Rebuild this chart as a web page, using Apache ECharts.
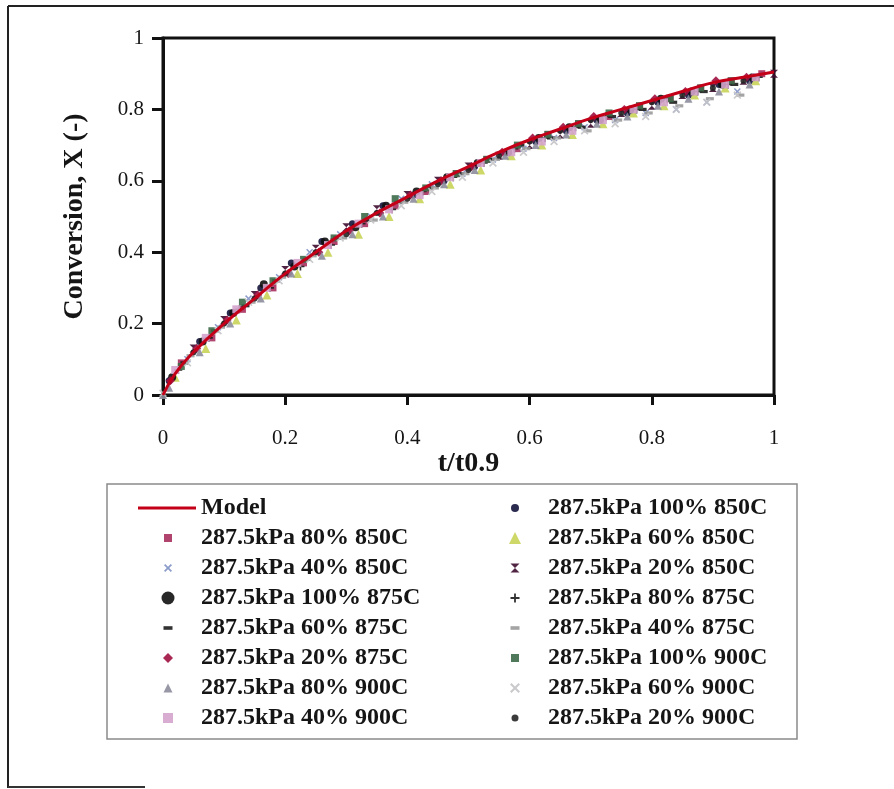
<!DOCTYPE html>
<html><head><meta charset="utf-8">
<script src="https://cdn.jsdelivr.net/npm/echarts@6/dist/echarts.min.js"></script>
<style>html,body{margin:0;padding:0;background:#fff}#c{width:894px;height:789px}</style>
</head><body><div id="c"></div>
<script>
// ---- data (t/t0.9, Conversion X) ----
const xTicks = [0, 0.2, 0.4, 0.6, 0.8, 1];
const yTicks = [0, 0.2, 0.4, 0.6, 0.8, 1];
const model = [[0,0],[0.02,0.06],[0.05,0.12],[0.1,0.2],[0.15,0.27],[0.2,0.34],[0.25,0.40],[0.3,0.46],[0.35,0.51],[0.4,0.555],[0.45,0.60],[0.5,0.64],[0.55,0.68],[0.6,0.715],[0.65,0.745],[0.7,0.775],[0.75,0.80],[0.8,0.825],[0.85,0.85],[0.9,0.875],[0.95,0.89],[1.0,0.905]];
const s100_850 = [[0.01,0.04],[0.06,0.15],[0.11,0.23],[0.16,0.30],[0.21,0.37],[0.26,0.43],[0.31,0.48],[0.36,0.53],[0.41,0.56],[0.46,0.60],[0.51,0.64],[0.56,0.68],[0.61,0.71],[0.66,0.74],[0.71,0.77],[0.76,0.79],[0.81,0.82],[0.86,0.84],[0.91,0.87],[0.96,0.88]];
const s80_850 = [[0.03,0.09],[0.08,0.16],[0.13,0.24],[0.18,0.30],[0.23,0.37],[0.28,0.43],[0.33,0.48],[0.38,0.53],[0.43,0.57],[0.48,0.62],[0.53,0.66],[0.58,0.69],[0.63,0.73],[0.68,0.76],[0.73,0.78],[0.78,0.81],[0.83,0.83],[0.88,0.86],[0.93,0.88],[0.98,0.90]];
const s60_850 = [[0.02,0.05],[0.07,0.13],[0.12,0.21],[0.17,0.28],[0.22,0.34],[0.27,0.40],[0.32,0.45],[0.37,0.50],[0.42,0.55],[0.47,0.59],[0.52,0.63],[0.57,0.67],[0.62,0.70],[0.67,0.73],[0.72,0.76],[0.77,0.79],[0.82,0.81],[0.87,0.84],[0.92,0.86],[0.97,0.88]];
const s40_850 = [[0.04,0.10],[0.09,0.19],[0.14,0.27],[0.19,0.33],[0.24,0.40],[0.29,0.45],[0.34,0.50],[0.39,0.55],[0.44,0.59],[0.49,0.62],[0.54,0.66],[0.59,0.69],[0.64,0.72],[0.69,0.75],[0.74,0.77],[0.79,0.79],[0.84,0.80],[0.89,0.82],[0.94,0.85]];
const s20_850 = [[0.05,0.13],[0.10,0.21],[0.15,0.28],[0.20,0.35],[0.25,0.41],[0.30,0.47],[0.35,0.52],[0.40,0.56],[0.45,0.60],[0.50,0.64],[0.55,0.67],[0.60,0.70],[0.65,0.73],[0.70,0.76],[0.75,0.79],[0.80,0.81],[0.85,0.84],[0.90,0.86],[0.95,0.88],[1.0,0.90]];
const s100_875 = [[0.015,0.05],[0.065,0.15],[0.115,0.23],[0.165,0.31],[0.215,0.36],[0.265,0.43],[0.315,0.47],[0.365,0.53],[0.415,0.57],[0.465,0.61],[0.515,0.65],[0.565,0.68],[0.615,0.72],[0.665,0.75],[0.715,0.77],[0.765,0.80],[0.815,0.83],[0.865,0.85],[0.915,0.87],[0.965,0.89]];
const s80_875 = [[0.025,0.07],[0.075,0.16],[0.125,0.24],[0.175,0.30],[0.225,0.36],[0.275,0.42],[0.325,0.48],[0.375,0.52],[0.425,0.57],[0.475,0.61],[0.525,0.65],[0.575,0.69],[0.625,0.72],[0.675,0.75],[0.725,0.78],[0.775,0.80],[0.825,0.83],[0.875,0.85],[0.925,0.87],[0.975,0.89]];
const s60_875 = [[0.035,0.09],[0.085,0.18],[0.135,0.25],[0.185,0.32],[0.235,0.38],[0.285,0.44],[0.335,0.49],[0.385,0.54],[0.435,0.58],[0.485,0.62],[0.535,0.66],[0.585,0.70],[0.635,0.72],[0.685,0.75],[0.735,0.78],[0.785,0.80],[0.835,0.82],[0.885,0.85],[0.935,0.87]];
const s40_875 = [[0.045,0.11],[0.095,0.19],[0.145,0.26],[0.195,0.33],[0.245,0.39],[0.295,0.44],[0.345,0.49],[0.395,0.54],[0.445,0.58],[0.495,0.62],[0.545,0.66],[0.595,0.69],[0.645,0.72],[0.695,0.74],[0.745,0.77],[0.795,0.79],[0.845,0.81],[0.895,0.83],[0.945,0.84]];
const s20_875 = [[0.012,0.04],[0.055,0.13],[0.105,0.21],[0.155,0.28],[0.205,0.34],[0.255,0.40],[0.305,0.46],[0.355,0.51],[0.405,0.56],[0.455,0.60],[0.505,0.64],[0.555,0.68],[0.605,0.72],[0.655,0.75],[0.705,0.78],[0.755,0.80],[0.805,0.83],[0.855,0.85],[0.905,0.88],[0.955,0.89]];
const s100_900 = [[0.03,0.08],[0.08,0.18],[0.13,0.26],[0.18,0.32],[0.23,0.38],[0.28,0.44],[0.33,0.50],[0.38,0.55],[0.43,0.58],[0.48,0.62],[0.53,0.66],[0.58,0.70],[0.63,0.73],[0.68,0.76],[0.73,0.79],[0.78,0.81],[0.83,0.83],[0.88,0.86],[0.93,0.88]];
const s80_900 = [[0,0],[0.01,0.02],[0.06,0.12],[0.11,0.20],[0.16,0.27],[0.21,0.34],[0.26,0.39],[0.31,0.45],[0.36,0.50],[0.41,0.55],[0.46,0.59],[0.51,0.63],[0.56,0.67],[0.61,0.70],[0.66,0.73],[0.71,0.76],[0.76,0.78],[0.81,0.81],[0.86,0.83],[0.91,0.85],[0.96,0.87]];
const s60_900 = [[0,0.005],[0.04,0.09],[0.09,0.18],[0.14,0.26],[0.19,0.32],[0.24,0.38],[0.29,0.44],[0.34,0.49],[0.39,0.53],[0.44,0.57],[0.49,0.61],[0.54,0.65],[0.59,0.68],[0.64,0.71],[0.69,0.74],[0.74,0.76],[0.79,0.78],[0.84,0.80],[0.89,0.82],[0.94,0.84]];
const s40_900 = [[0.02,0.07],[0.07,0.16],[0.12,0.24],[0.17,0.30],[0.22,0.37],[0.27,0.42],[0.32,0.48],[0.37,0.52],[0.42,0.56],[0.47,0.61],[0.52,0.65],[0.57,0.68],[0.62,0.71],[0.67,0.74],[0.72,0.77],[0.77,0.80],[0.82,0.82],[0.87,0.85],[0.92,0.87],[0.97,0.89]];
const s20_900 = [[0.05,0.12],[0.10,0.20],[0.15,0.27],[0.20,0.34],[0.25,0.40],[0.30,0.45],[0.35,0.51],[0.40,0.55],[0.45,0.59],[0.50,0.63],[0.55,0.67],[0.60,0.71],[0.65,0.74],[0.70,0.77],[0.75,0.79],[0.80,0.82],[0.85,0.84],[0.90,0.86],[0.95,0.88]];

const names = ['Model','287.5kPa 100% 850C','287.5kPa 80% 850C','287.5kPa 60% 850C','287.5kPa 40% 850C','287.5kPa 20% 850C','287.5kPa 100% 875C','287.5kPa 80% 875C','287.5kPa 60% 875C','287.5kPa 40% 875C','287.5kPa 20% 875C','287.5kPa 100% 900C','287.5kPa 80% 900C','287.5kPa 60% 900C','287.5kPa 40% 900C','287.5kPa 20% 900C'];
const seriesData = [model, s100_850, s80_850, s60_850, s40_850, s20_850, s100_875, s80_875, s60_875, s40_875, s20_875, s100_900, s80_900, s60_900, s40_900, s20_900];

// ---- styles ----
const P_X = 'path://M0,1.5L1.5,0L5,3.5L8.5,0L10,1.5L6.5,5L10,8.5L8.5,10L5,6.5L1.5,10L0,8.5L3.5,5Z';
const P_PLUS = 'path://M4,0H6V4H10V6H6V10H4V6H0V4H4Z';
const P_DASH = 'path://M0,0H10V4H0Z';
const P_HOUR = 'path://M0,0H10L5,5L10,10H0L5,5Z';
const styles = [
  null,
  {sym:'circle', size:7, legend:8, color:'#14143c'},
  {sym:'rect', size:7, legend:8, color:'#a8305e'},
  {sym:'triangle', size:9, legend:12, color:'#c8d458'},
  {sym:P_X, size:7, legend:8, color:'#7f90c4'},
  {sym:P_HOUR, size:8, legend:9, color:'#3e0c30'},
  {sym:'circle', size:8, legend:13, color:'#111111'},
  {sym:P_PLUS, size:8, legend:9, color:'#1c1c1c'},
  {sym:P_DASH, size:8, legend:9, color:'#1c1c1c'},
  {sym:P_DASH, size:8, legend:9, color:'#9a9a9a'},
  {sym:'diamond', size:9, legend:10, color:'#a01040'},
  {sym:'rect', size:7, legend:8, color:'#3c6a48'},
  {sym:'triangle', size:8, legend:9, color:'#8c8c9c'},
  {sym:P_X, size:8, legend:10, color:'#c4c4c8'},
  {sym:'rect', size:8, legend:10, color:'#d4a4cc'},
  {sym:'circle', size:6, legend:7, color:'#262626'}
];

const FONT = '"Liberation Serif", "Times New Roman", serif';
const series = [];
seriesData.forEach((d, i) => {
  if (i === 0) {
    series.push({name: names[0], type:'line', data: d, smooth: true, symbol:'none', z: 5,
      lineStyle:{color:'#c40018', width:3}, itemStyle:{color:'#c40018'}});
  } else {
    const s = styles[i];
    series.push({name: names[i], type:'scatter', data: d, symbol: s.sym, symbolSize: s.size,
      symbolKeepAspect: true, z: 3, itemStyle:{color: s.color, opacity: 0.9}});
  }
});

// legends: one per entry, row-major in two columns
const rowTop = 508, rowStep = 30;
const colCenter = [168, 515];
const textStart = [201, 548];
const legendText = {fontFamily: FONT, fontWeight:'bold', fontSize:24, color:'#151515', lineHeight:26};
const legends = names.map((n, i) => {
  const col = i % 2, row = Math.floor(i / 2);
  const top = rowTop + row*rowStep - 13;
  if (i === 0) {
    return {data:[{name:n, icon:'rect'}], selectedMode:false, padding:0, left:138, top: top,
      itemWidth:58, itemHeight:3, textStyle: legendText};
  }
  const sz = styles[i].legend;
  const left = colCenter[col] - sz/2;
  const pad = textStart[col] - 5 - (left + sz);
  return {data:[n], selectedMode:false, padding:0, left: left, top: top,
    itemWidth: sz, itemHeight: sz, symbolKeepAspect:true,
    textStyle: Object.assign({}, legendText, {padding:[0,0,0,pad]})};
});

const chart = echarts.init(document.getElementById('c'), null, {renderer:'canvas'});
chart.setOption({
  backgroundColor:'#ffffff',
  animation:false,
  grid:{left:163, right:120, top:38, bottom:394, show:true, borderColor:'#111', borderWidth:3, backgroundColor:'transparent'},
  xAxis:{type:'value', min:0, max:1, interval:0.2,
    name:'t/t0.9', nameLocation:'middle', nameGap:50,
    nameTextStyle:{fontFamily:FONT, fontWeight:'bold', fontSize:28, color:'#151515'},
    axisLine:{show:true, lineStyle:{color:'#111', width:3}},
    axisTick:{show:true, inside:false, length:10, lineStyle:{color:'#111', width:3}},
    axisLabel:{margin:33, fontFamily:FONT, fontSize:21, color:'#151515',
      formatter: v => xTicks.includes(+v.toFixed(1)) ? String(+v.toFixed(1)) : ''},
    splitLine:{show:false}},
  yAxis:{type:'value', min:0, max:1, interval:0.2,
    name:'Conversion, X (-)', nameLocation:'middle', nameGap:74, nameRotate:90,
    nameTextStyle:{fontFamily:FONT, fontWeight:'bold', fontSize:28, color:'#151515'},
    axisLine:{show:true, lineStyle:{color:'#111', width:3}},
    axisTick:{show:true, inside:false, length:11, lineStyle:{color:'#111', width:3}},
    axisLabel:{margin:19, fontFamily:FONT, fontSize:21, color:'#151515',
      formatter: v => yTicks.includes(+v.toFixed(1)) ? String(+v.toFixed(1)) : ''},
    splitLine:{show:false}},
  legend: legends,
  graphic:[
    {type:'line', shape:{x1:8, y1:6, x2:894, y2:6}, style:{stroke:'#222', lineWidth:2}, z:-1},
    {type:'line', shape:{x1:8, y1:6, x2:8, y2:788}, style:{stroke:'#222', lineWidth:2}, z:-1},
    {type:'line', shape:{x1:8, y1:787, x2:145, y2:787}, style:{stroke:'#333', lineWidth:2}, z:-1},
    {type:'rect', shape:{x:107, y:484, width:690, height:255}, style:{fill:'#fff', stroke:'#8a8a8a', lineWidth:1.5}, z:-1}
  ],
  series: series
});
</script></body></html>
